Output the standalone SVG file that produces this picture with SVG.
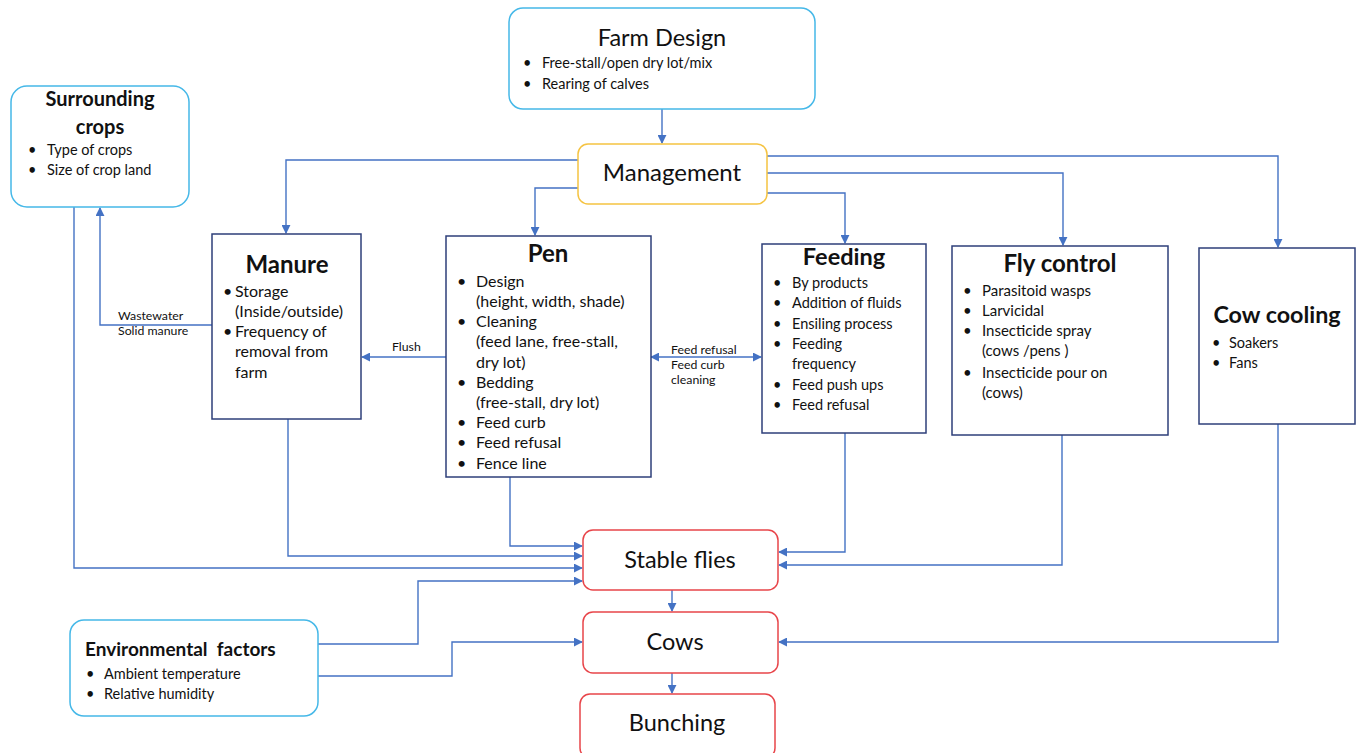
<svg xmlns="http://www.w3.org/2000/svg" width="1359" height="753" viewBox="0 0 1359 753">
<defs>
<marker id="ah" viewBox="0 0 10 10" refX="9" refY="5" markerWidth="9" markerHeight="9" markerUnits="userSpaceOnUse" orient="auto-start-reverse">
<path d="M0,0 L10,5 L0,10 z" fill="#4472C4"/>
</marker>
<style>
text{font-family:Lato,"Open Sans","Liberation Sans",sans-serif;fill:#111}
.t{font-size:23.5px;text-anchor:middle}
.tb{font-size:24px;font-weight:bold;text-anchor:middle}
.sb{font-size:20px;font-weight:bold}
.b{font-size:14.5px}
.b16{font-size:16px}
.b15{font-size:15px}
.s{font-size:12.3px}
.lb{fill:#fff;stroke:#45B8E8;stroke-width:1.5}
.yl{fill:#fff;stroke:#F5C342;stroke-width:1.5}
.nv{fill:#fff;stroke:#2E3F7A;stroke-width:1.5}
.rd{fill:#fff;stroke:#E8454A;stroke-width:1.5}
.c path{fill:none;stroke:#4472C4;stroke-width:1.4;marker-end:url(#ah)}
</style>
</defs>
<rect width="1359" height="753" fill="#fff"/>

<g class="c" id="connectors">
<path d="M662,109 V143"/>
<path d="M578,160 H286 V233"/>
<path d="M578,188 H535 V235"/>
<path d="M767,193 H845 V243"/>
<path d="M767,173 H1063 V245"/>
<path d="M767,156 H1278 V247"/>
<path d="M212,325 H100 V208"/>
<path d="M446,357 H362"/>
<path d="M651,357 H761" style="marker-start:url(#ah)"/>
<path d="M74,207 V568 H582"/>
<path d="M288,419 V556 H582"/>
<path d="M510,477 V546 H582"/>
<path d="M318,644 H418 V581 H582"/>
<path d="M318,676 H452 V642 H582"/>
<path d="M845,433 V552 H779"/>
<path d="M1062,435 V565 H779"/>
<path d="M1278,424 V642 H779"/>
<path d="M672,590 V611"/>
<path d="M672,673 V693"/>
</g>
<g id="connector-labels">
<text class="s" x="118" y="320">Wastewater</text>
<text class="s" x="118" y="335">Solid manure</text>
<text class="s" x="392" y="351">Flush</text>
<text class="s" x="671" y="354">Feed refusal</text>
<text class="s" x="671" y="369">Feed curb</text>
<text class="s" x="671" y="384">cleaning</text>
</g>

<g id="farm-design">
<rect class="lb" x="509" y="8" width="306" height="101" rx="14"/>
<text class="t" x="662" y="46">Farm Design</text>
<text class="b" x="523" y="68">•</text><text class="b" x="542" y="68">Free-stall/open dry lot/mix</text>
<text class="b" x="523" y="89">•</text><text class="b" x="542" y="89">Rearing of calves</text>
</g>

<g id="management">
<rect class="yl" x="578" y="144" width="189" height="60" rx="10"/>
<text class="t" x="672" y="181" style="font-size:24px">Management</text>
</g>

<g id="surrounding-crops">
<rect class="lb" x="11" y="86" width="178" height="121" rx="16"/>
<text class="sb" x="100" y="106" text-anchor="middle">Surrounding</text>
<text class="sb" x="100" y="134" text-anchor="middle">crops</text>
<text class="b" x="28" y="155">•</text><text class="b" x="47" y="155">Type of crops</text>
<text class="b" x="28" y="175">•</text><text class="b" x="47" y="175">Size of crop land</text>
</g>

<g id="manure">
<rect class="nv" x="212" y="234" width="149" height="185"/>
<text class="tb" x="287" y="273">Manure</text>
<text class="b16" x="223" y="297">•</text><text class="b16" x="235" y="297">Storage</text>
<text class="b16" x="235" y="317">(Inside/outside)</text>
<text class="b16" x="223" y="337">•</text><text class="b16" x="235" y="337">Frequency of</text>
<text class="b16" x="235" y="357">removal from</text>
<text class="b16" x="235" y="378">farm</text>
</g>

<g id="pen">
<rect class="nv" x="446" y="236" width="205" height="241"/>
<text class="tb" x="548" y="262">Pen</text>
<text class="b16" x="457" y="287">•</text><text class="b16" x="476" y="287">Design</text>
<text class="b16" x="476" y="307">(height, width, shade)</text>
<text class="b16" x="457" y="327">•</text><text class="b16" x="476" y="327">Cleaning</text>
<text class="b16" x="476" y="347">(feed lane, free-stall,</text>
<text class="b16" x="476" y="368">dry lot)</text>
<text class="b16" x="457" y="388">•</text><text class="b16" x="476" y="388">Bedding</text>
<text class="b16" x="476" y="408">(free-stall, dry lot)</text>
<text class="b16" x="457" y="428">•</text><text class="b16" x="476" y="428">Feed curb</text>
<text class="b16" x="457" y="448">•</text><text class="b16" x="476" y="448">Feed refusal</text>
<text class="b16" x="457" y="469">•</text><text class="b16" x="476" y="469">Fence line</text>
</g>

<g id="feeding">
<rect class="nv" x="762" y="244" width="164" height="189"/>
<text class="tb" x="844" y="265" style="font-size:23.5px">Feeding</text>
<text class="b" x="773" y="288">•</text><text class="b" x="792" y="288">By products</text>
<text class="b" x="773" y="308">•</text><text class="b" x="792" y="308">Addition of fluids</text>
<text class="b" x="773" y="329">•</text><text class="b" x="792" y="329">Ensiling process</text>
<text class="b" x="773" y="349">•</text><text class="b" x="792" y="349">Feeding</text>
<text class="b" x="792" y="369">frequency</text>
<text class="b" x="773" y="390">•</text><text class="b" x="792" y="390">Feed push ups</text>
<text class="b" x="773" y="410">•</text><text class="b" x="792" y="410">Feed refusal</text>
</g>

<g id="fly-control">
<rect class="nv" x="952" y="246" width="216" height="189"/>
<text class="tb" x="1060" y="272">Fly control</text>
<text class="b15" x="963" y="296">•</text><text class="b15" x="982" y="296">Parasitoid wasps</text>
<text class="b15" x="963" y="316">•</text><text class="b15" x="982" y="316">Larvicidal</text>
<text class="b15" x="963" y="336">•</text><text class="b15" x="982" y="336">Insecticide spray</text>
<text class="b15" x="982" y="356">(cows /pens )</text>
<text class="b15" x="963" y="378">•</text><text class="b15" x="982" y="378">Insecticide pour on</text>
<text class="b15" x="982" y="398">(cows)</text>
</g>

<g id="cow-cooling">
<rect class="nv" x="1199" y="248" width="156" height="176"/>
<text class="tb" x="1277" y="323" style="font-size:23.3px">Cow cooling</text>
<text class="b" x="1212" y="348">•</text><text class="b" x="1229" y="348">Soakers</text>
<text class="b" x="1212" y="368">•</text><text class="b" x="1229" y="368">Fans</text>
</g>

<g id="stable-flies">
<rect class="rd" x="583" y="530" width="195" height="60" rx="10"/>
<text class="t" x="680" y="568">Stable flies</text>
</g>

<g id="cows">
<rect class="rd" x="583" y="612" width="195" height="61" rx="10"/>
<text class="t" x="675" y="650">Cows</text>
</g>

<g id="bunching">
<rect class="rd" x="580" y="694" width="195" height="64" rx="10"/>
<text class="t" x="677" y="731">Bunching</text>
</g>

<g id="environmental-factors">
<rect class="lb" x="70" y="620" width="248" height="96" rx="14"/>
<text class="sb" x="85" y="656" style="font-size:19px">Environmental&#160; factors</text>
<text class="b" x="86" y="679">•</text><text class="b" x="104" y="679">Ambient temperature</text>
<text class="b" x="86" y="699">•</text><text class="b" x="104" y="699">Relative humidity</text>
</g>
</svg>
